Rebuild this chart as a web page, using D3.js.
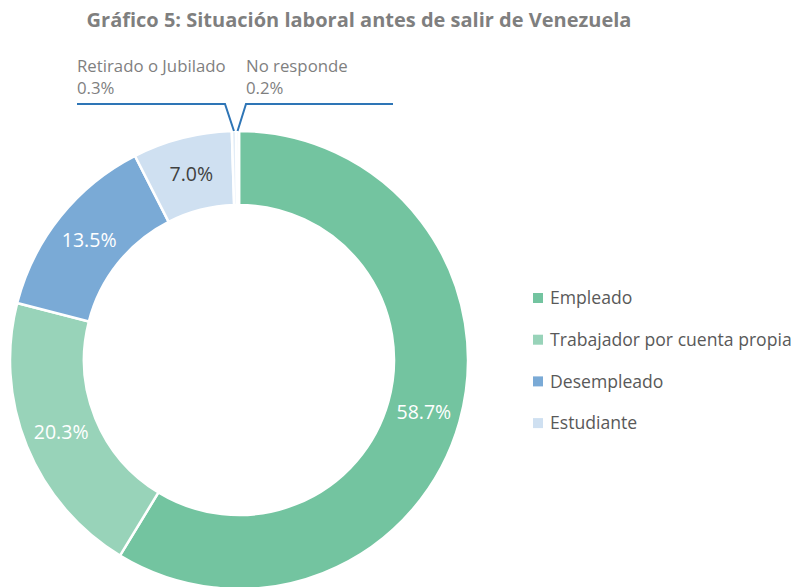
<!DOCTYPE html>
<html><head><meta charset="utf-8">
<script src="https://cdn.jsdelivr.net/npm/d3@7"></script>
<style>body{margin:0;background:#fff;}svg{display:block;}</style>
</head><body>
<svg id="chart" width="793" height="587"></svg>
<script>
const categories = ["Empleado","Trabajador por cuenta propia","Desempleado","Estudiante","Retirado o Jubilado","No responde"];
const values = [58.7, 20.3, 13.5, 7.0, 0.3, 0.2];
const colors = ["#73c4a0","#98d3b9","#7aaad6","#cfe0f1","#e3edf7","#edf3fa"];
const legendItems = ["Empleado","Trabajador por cuenta propia","Desempleado","Estudiante"];
const title = "Gráfico 5: Situación laboral antes de salir de Venezuela";

const FONT = "'Open Sans', sans-serif";
const svg = d3.select("#chart");
const cx = 239, cy = 360, rOut = 229, rIn = 155;

svg.append("text").attr("x", 359).attr("y", 27).attr("text-anchor","middle")
  .attr("font-family", FONT).attr("font-weight","bold").attr("font-size", 20)
  .attr("fill","#7f7f7f").text(title);

const data = categories.map((c,i)=>({name:c, value:values[i], color:colors[i]}));
const pie = d3.pie().value(d=>d.value).sort(null);
const arcs = pie(data);
const arc = d3.arc().innerRadius(rIn).outerRadius(rOut);
const g = svg.append("g").attr("transform", `translate(${cx},${cy})`);
g.selectAll("path").data(arcs).join("path")
  .attr("d", arc).attr("fill", d=>d.data.color)
  .attr("stroke","#fff").attr("stroke-width",2.5);

const labelColor = ["#fff","#fff","#fff","#404040"];
arcs.slice(0,4).forEach((a,i)=>{
  const [x,y] = arc.centroid(a);
  g.append("text").attr("x", x).attr("y", y).attr("dy","0.35em")
    .attr("text-anchor","middle").attr("font-family", FONT).attr("font-size", 19.5)
    .attr("fill", labelColor[i]).text(d3.format(".1f")(a.data.value)+"%");
});

const small = arcs.slice(4);
const lineY = 104 - cy;
const calloutX = [[77-cx, 225-cx],[246-cx, 393-cx]];
small.forEach((a,i)=>{
  const mid = (a.startAngle+a.endAngle)/2;
  const px = rOut*Math.sin(mid), py = -rOut*Math.cos(mid);
  const pts = i===0 ? [[calloutX[0][0],lineY],[calloutX[0][1],lineY],[px,py]]
                    : [[px,py],[calloutX[1][0],lineY],[calloutX[1][1],lineY]];
  g.append("path").attr("d", d3.line()(pts)).attr("fill","none")
    .attr("stroke","#2e75b6").attr("stroke-width",2);
  const tx = i===0 ? calloutX[0][0] : calloutX[1][0];
  const t = g.append("text").attr("font-family", FONT).attr("font-size", 16.8).attr("fill","#7f7f7f");
  t.append("tspan").attr("x", tx).attr("y", 72-cy).text(a.data.name);
  t.append("tspan").attr("x", tx).attr("y", 94-cy).text(d3.format(".1f")(a.data.value)+"%");
});

const lg = svg.append("g").attr("transform","translate(533,298)");
legendItems.forEach((n,i)=>{
  const row = lg.append("g").attr("transform", `translate(0,${i*41.7})`);
  row.append("rect").attr("x",0).attr("y",-5).attr("width",10).attr("height",10).attr("fill", colors[i]);
  row.append("text").attr("x",17).attr("y",0).attr("dy","0.35em")
    .attr("font-family", FONT).attr("font-size",17.6).attr("fill","#595959").text(n);
});
</script>
</body></html>
